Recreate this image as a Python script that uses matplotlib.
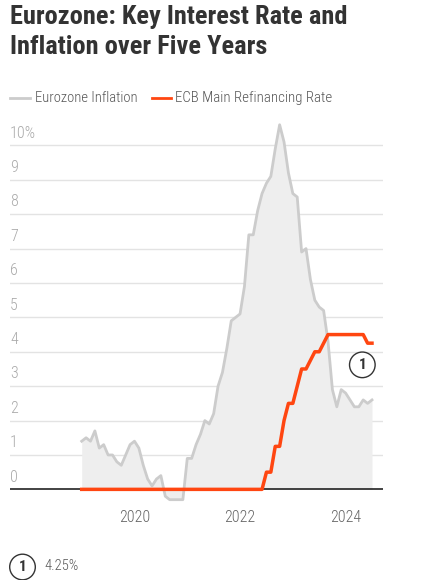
import numpy as np
import matplotlib
matplotlib.use("Agg")
import matplotlib.pyplot as plt
from matplotlib.transforms import blended_transform_factory, offset_copy

# monthly values, Jan 2019 .. Jul 2024
inflation = [
    1.4, 1.5, 1.4, 1.7, 1.2, 1.3, 1.0, 1.0, 0.8, 0.7, 1.0, 1.3,   # 2019
    1.4, 1.2, 0.7, 0.3, 0.1, 0.3, 0.4, -0.2, -0.3, -0.3, -0.3, -0.3,  # 2020
    0.9, 0.9, 1.3, 1.6, 2.0, 1.9, 2.2, 3.0, 3.4, 4.1, 4.9, 5.0,   # 2021
    5.1, 5.9, 7.4, 7.4, 8.1, 8.6, 8.9, 9.1, 9.9, 10.6, 10.1, 9.2,  # 2022
    8.6, 8.5, 6.9, 7.0, 6.1, 5.5, 5.3, 5.2, 4.3, 2.9, 2.4, 2.9,   # 2023
    2.8, 2.6, 2.4, 2.4, 2.6, 2.5, 2.6,                            # 2024
]
refi_rate = (
    [0.0] * 42 +                                      # Jan 2019 .. Jun 2022
    [0.5, 0.5, 1.25, 1.25, 2.0, 2.5,                  # Jul .. Dec 2022
     2.5, 3.0, 3.5, 3.5, 3.75, 4.0, 4.0, 4.25, 4.5, 4.5, 4.5, 4.5,  # 2023
     4.5, 4.5, 4.5, 4.5, 4.5, 4.25, 4.25]             # Jan .. Jul 2024
)
months = np.arange(len(inflation))

year_ticks = [12, 36, 60]
year_labels = ["2020", "2022", "2024"]
y_ticks = [0, 1, 2, 3, 4, 5, 6, 7, 8, 9, 10]

GREY_LINE = "#cccccc"
GREY_FILL = "#eeeeee"
ORANGE = "#ff4611"

plt.rcParams["font.family"] = ["Roboto Condensed", "DejaVu Sans"]

fig = plt.figure(figsize=(4.24, 5.8), dpi=100)
ax = fig.add_axes([10 / 424, 70 / 580, 373 / 424, 399 / 580])
ax.set_xlim(-16.3, 68.5)
ax.set_ylim(-0.6, 11.0)
ax.axis("off")

# gridlines + labels
trans = blended_transform_factory(ax.transAxes, ax.transData)
lab_trans = offset_copy(trans, fig=fig, x=0, y=3.5, units="points")
for v in y_ticks:
    if v == 0:
        ax.axhline(0, color="#222222", lw=1.2, zorder=4)
    else:
        ax.axhline(v, color="#e3e3e3", lw=1, zorder=1)
    ax.text(0, v, "10%" if v == 10 else str(v), transform=lab_trans,
            ha="left", va="bottom", fontsize=11.5, fontweight="light", color="#aaaaaa")

ax.fill_between(months, inflation, 0, color=GREY_FILL, lw=0, zorder=2)
ax.plot(months, inflation, color=GREY_LINE, lw=2, zorder=3)
ax.plot(months, refi_rate, color=ORANGE, lw=2.5, zorder=5)

for m, lab in zip(year_ticks, year_labels):
    ax.text(m, -0.6, lab, ha="center", va="top", fontsize=11.5,
            fontweight="light", color="#666666")

# annotation marker
ax.annotate("1", xy=(63.8, 3.62), ha="center", va="center", fontsize=11,
            fontweight="bold", color="#333333",
            bbox=dict(boxstyle="circle,pad=0.38", fc="white", ec="#333333", lw=1))

# title
fig.text(10 / 424, 1 - 5 / 580, "Eurozone: Key Interest Rate and\nInflation over Five Years",
         ha="left", va="top", fontsize=19, fontweight="bold", color="#333333",
         linespacing=1.33)

# legend
ly = 1 - 98 / 580
fig.add_artist(plt.Line2D([10 / 424, 30 / 424], [ly, ly], color=GREY_LINE, lw=2))
fig.text(35 / 424, ly, "Eurozone Inflation", ha="left", va="center",
         fontsize=10.5, fontweight="light", color="#555555")
fig.add_artist(plt.Line2D([152 / 424, 171 / 424], [ly, ly], color=ORANGE, lw=2))
fig.text(175 / 424, ly, "ECB Main Refinancing Rate", ha="left", va="center",
         fontsize=10.7, fontweight="light", color="#555555")

# footnote
fig.text(22.5 / 424, 1 - 567 / 580, "1", ha="center", va="center", fontsize=11,
         fontweight="bold", color="#333333",
         bbox=dict(boxstyle="circle,pad=0.38", fc="white", ec="#333333", lw=1))
fig.text(44 / 424, 1 - 566 / 580, "4.25%", ha="left", va="center",
         fontsize=10.5, fontweight="light", color="#555555")

fig.savefig("out.png", dpi=100)
